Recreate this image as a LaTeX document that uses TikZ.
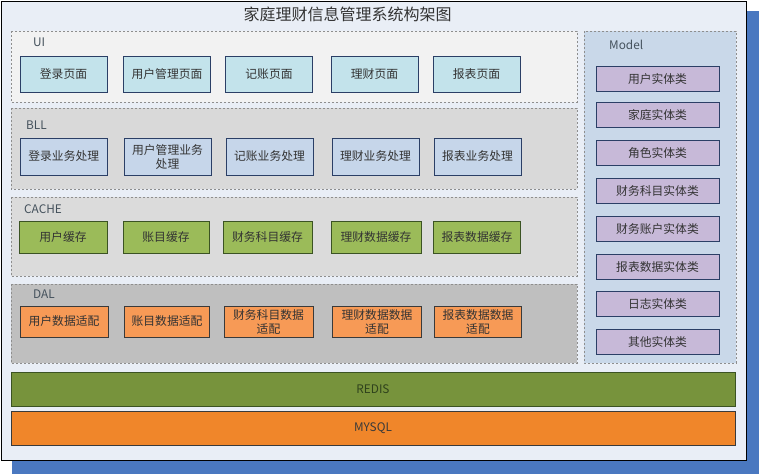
\documentclass[tikz,border=0pt]{standalone}
\usepackage{fontspec}
\setmainfont{Noto Sans CJK SC}
\definecolor{framebg}{HTML}{E9EEF6}
\definecolor{shadowc}{HTML}{4A78C0}
\definecolor{uipanel}{HTML}{F2F2F2}
\definecolor{graypanel}{HTML}{D9D9D9}
\definecolor{dalpanel}{HTML}{BFBFBF}
\definecolor{modelpanel}{HTML}{C9D8E9}
\definecolor{uibox}{HTML}{C3E3EB}
\definecolor{bllbox}{HTML}{C6D6EA}
\definecolor{cachebox}{HTML}{9BBB59}
\definecolor{dalbox}{HTML}{F79A56}
\definecolor{modelbox}{HTML}{C7B9D8}
\definecolor{redisc}{HTML}{77933C}
\definecolor{mysqlc}{HTML}{F0862A}
\definecolor{navyb}{HTML}{2B3F66}
\definecolor{greenb}{HTML}{3B5323}
\definecolor{darkb}{HTML}{3A3A3A}
\definecolor{txt}{HTML}{333333}
\definecolor{lbl}{HTML}{44515C}
\definecolor{dashc}{HTML}{8E8E8E}
\tikzset{
  panel/.style={draw=dashc, dash pattern=on 2pt off 2pt, line width=0.8pt},
  boxbase/.style={rectangle, inner sep=0pt, align=center, text=txt, line width=0.9pt,
    font=\fontsize{11.8}{14}\selectfont},
  uistyle/.style={boxbase, draw=navyb, fill=uibox, minimum width=87pt, minimum height=36pt},
  bllstyle/.style={boxbase, draw=navyb, fill=bllbox, minimum width=87pt, minimum height=37pt},
  cachestyle/.style={boxbase, draw=greenb, fill=cachebox, minimum width=88pt, minimum height=32pt},
  dalstyle/.style={boxbase, draw=darkb, fill=dalbox, minimum width=88pt, minimum height=31pt},
  modelstyle/.style={boxbase, draw=navyb, fill=modelbox, minimum width=123pt, minimum height=25pt},
  lyrlabel/.style={anchor=west, inner sep=0pt, text=lbl, font=\fontsize{11.8}{14}\selectfont},
}
\begin{document}
\begin{tikzpicture}[x=1pt, y=-1pt]
\useasboundingbox (0,0) rectangle (759,474);
% shadow and frame
\fill[shadowc] (12,11) rectangle (759,474);
\draw[fill=framebg, line width=1pt, draw=black] (1,1) rectangle (746,460.5);
\node[inner sep=0pt, text=txt, font=\fontsize{16}{18}\selectfont] (title) at (347.5,14) {家庭理财信息管理系统构架图};
% panels
\draw[panel, fill=uipanel] (11,31) rectangle (577,102);
\draw[panel, fill=graypanel] (11,108) rectangle (577,189);
\draw[panel, fill=graypanel!95!white] (11,197) rectangle (577,276);
\draw[panel, fill=dalpanel] (11,284) rectangle (577,363);
\draw[panel, fill=modelpanel] (584,31) rectangle (736,363);
% labels
\node[lyrlabel] (luil) at (33,42.5) {UI};
\node[lyrlabel] (lbll) at (26,125) {BLL};
\node[lyrlabel] (lcache) at (24,209) {CACHE};
\node[lyrlabel] (ldal) at (33,294) {DAL};
\node[lyrlabel] (lmodel) at (609,45) {Model};
% UI
\node[uistyle] (ui1) at (63.5,74) {登录页面};
\node[uistyle] (ui2) at (167,74) {用户管理页面};
\node[uistyle] (ui3) at (269,74) {记账页面};
\node[uistyle] (ui4) at (374.5,74) {理财页面};
\node[uistyle] (ui5) at (476.5,74) {报表页面};
% BLL
\node[bllstyle] (b1) at (63.75,156.5) {登录业务处理};
\node[bllstyle] (b2) at (167.5,156.5) {用户管理业务\\处理};
\node[bllstyle] (b3) at (269.5,156.5) {记账业务处理};
\node[bllstyle] (b4) at (375.5,156.5) {理财业务处理};
\node[bllstyle] (b5) at (477.5,156.5) {报表业务处理};
% CACHE
\node[cachestyle] (c1) at (63,237) {用户缓存};
\node[cachestyle, minimum width=86pt] (c2) at (166,237) {账目缓存};
\node[cachestyle, minimum width=89pt] (c3) at (267.5,237) {财务科目缓存};
\node[cachestyle, minimum width=90pt] (c4) at (376,237) {理财数据缓存};
\node[cachestyle, minimum width=87pt] (c5) at (477,237) {报表数据缓存};
% DAL
\node[dalstyle] (d1) at (64,321.5) {用户数据适配};
\node[dalstyle, minimum width=85pt] (d2) at (167,321.5) {账目数据适配};
\node[dalstyle, minimum width=89pt] (d3) at (268.5,321.5) {财务科目数据\\适配};
\node[dalstyle, minimum width=89pt] (d4) at (377,321.5) {理财数据数据\\适配};
\node[dalstyle, minimum width=87pt] (d5) at (478,321.5) {报表数据数据\\适配};
% Model
\node[modelstyle] (m1) at (657.5,79) {用户实体类};
\node[modelstyle] (m2) at (657.5,115) {家庭实体类};
\node[modelstyle] (m3) at (657.5,153) {角色实体类};
\node[modelstyle] (m4) at (657.5,191) {财务科目实体类};
\node[modelstyle] (m5) at (657.5,229) {财务账户实体类};
\node[modelstyle] (m6) at (657.5,266.5) {报表数据实体类};
\node[modelstyle] (m7) at (657.5,304) {日志实体类};
\node[modelstyle] (m8) at (657.5,342) {其他实体类};
% bars
\node[boxbase, draw=greenb, fill=redisc, text=greenb!80!black, minimum width=724pt, minimum height=34pt] (redis) at (373,389) {REDIS};
\node[boxbase, draw=darkb, fill=mysqlc, text=darkb, minimum width=724pt, minimum height=34pt] (mysql) at (373,428) {MYSQL};
\end{tikzpicture}
\end{document}
